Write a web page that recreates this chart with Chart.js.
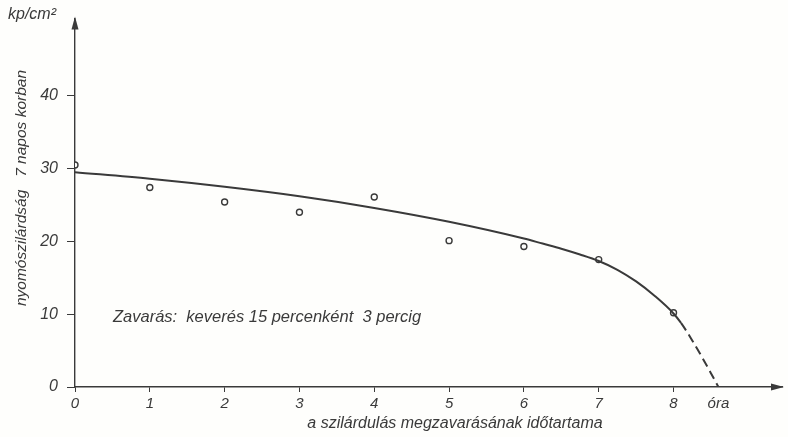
<!DOCTYPE html>
<html>
<head>
<meta charset="utf-8">
<script src="https://cdn.jsdelivr.net/npm/chart.js@4/dist/chart.umd.min.js"></script>
<style>
  html, body { margin: 0; padding: 0; background: #fefefc; }
  #wrap { width: 788px; height: 437px; }
</style>
</head>
<body>
<div id="wrap"><canvas id="chart"></canvas></div>
<script>
// measured points (7 napos nyomószilárdság)
const hours = [0, 1, 2, 3, 4, 5, 6, 7, 8];
const strength = [30.5, 27.4, 25.4, 24.0, 26.1, 20.1, 19.3, 17.5, 10.2];

// fitted curve, dashed past ~8.1 h
const curveHours = [0, 1, 2, 3, 4, 5, 6, 6.25, 6.5, 6.75, 7, 7.25, 7.5, 7.75, 8, 8.1, 8.25, 8.5, 8.6];
const curveStrength = [29.5, 28.6, 27.5, 26.2, 24.6, 22.7, 20.4, 19.7, 19.0, 18.2, 17.3, 16.1, 14.5, 12.5, 10.1, 8.8, 6.4, 1.9, 0];

const xTicks = [0, 1, 2, 3, 4, 5, 6, 7, 8, 8.6];
const xTickLabels = ["0", "1", "2", "3", "4", "5", "6", "7", "8", "óra"];
const yTicks = [0, 10, 20, 30, 40];

const ink = "#3a3a3a";
const fontFam = "'Liberation Sans', 'DejaVu Sans', sans-serif";

const extras = {
  id: "extras",
  beforeDraw(chart) {
    const c = chart.ctx;
    c.save();
    c.fillStyle = "#fefefc";
    c.fillRect(0, 0, chart.width, chart.height);
    c.restore();
  },
  afterDraw(chart) {
    const c = chart.ctx;
    const a = chart.chartArea;
    c.save();
    c.fillStyle = ink;
    c.strokeStyle = ink;
    // arrow heads
    c.beginPath();
    c.moveTo(a.left, a.top - 2);
    c.lineTo(a.left - 3.5, a.top + 11);
    c.lineTo(a.left + 3.5, a.top + 11);
    c.closePath();
    c.fill();
    c.beginPath();
    c.moveTo(a.right + 2, a.bottom);
    c.lineTo(a.right - 11, a.bottom - 3.5);
    c.lineTo(a.right - 11, a.bottom + 3.5);
    c.closePath();
    c.fill();

    c.textBaseline = "middle";
    c.textAlign = "left";
    c.font = "italic 16px " + fontFam;
    c.fillText("kp/cm²", 8, 15);

    c.font = "italic 16.5px " + fontFam;
    c.fillText("Zavarás:  keverés 15 percenként  3 percig", 113, 317);

    c.textAlign = "center";
    c.font = "italic 16px " + fontFam;
    c.fillText("a szilárdulás megzavarásának időtartama", 455, 424);

    c.translate(22, 188);
    c.rotate(-Math.PI / 2);
    c.font = "italic 15.5px " + fontFam;
    c.fillText("nyomószilárdság   7 napos korban", 0, 0);
    c.restore();
  }
};

const ctx = document.getElementById("chart");
new Chart(ctx, {
  type: "scatter",
  data: {
    datasets: [
      {
        label: "görbe",
        data: curveHours.map((h, i) => ({ x: h, y: curveStrength[i] })),
        showLine: true,
        borderColor: ink,
        borderWidth: 2,
        pointRadius: 0,
        cubicInterpolationMode: "monotone",
        segment: {
          borderDash: s => s.p0.parsed.x >= 8.05 ? [9, 5] : undefined
        }
      },
      {
        label: "mérés",
        data: hours.map((h, i) => ({ x: h, y: strength[i] })),
        showLine: false,
        pointRadius: 3,
        pointBorderWidth: 1.4,
        pointBackgroundColor: "#fefefc",
        pointBorderColor: ink
      }
    ]
  },
  options: {
    responsive: true,
    maintainAspectRatio: false,
    animation: false,
    layout: { padding: { top: 15, right: 6, left: 0, bottom: 0 } },
    plugins: {
      legend: { display: false },
      tooltip: { enabled: false }
    },
    scales: {
      x: {
        type: "linear",
        min: 0,
        max: 9.45,
        afterBuildTicks: s => { s.ticks = xTicks.map(v => ({ value: v })); },
        afterFit: s => { s.height = 50; },
        border: { display: true, color: ink, width: 1.4 },
        grid: {
          drawOnChartArea: false,
          drawTicks: true,
          tickLength: 5,
          color: c => (c.tick && c.tick.value > 8.5) ? "rgba(0,0,0,0)" : ink
        },
        ticks: {
          padding: 3,
          color: ink,
          font: { family: fontFam, size: 15, style: "italic" },
          callback: (v, i) => xTickLabels[i]
        }
      },
      y: {
        min: 0,
        max: 50.6,
        afterBuildTicks: s => { s.ticks = yTicks.map(v => ({ value: v })); },
        afterFit: s => { s.width = 75; },
        border: { display: true, color: ink, width: 1.4 },
        grid: {
          drawOnChartArea: false,
          drawTicks: true,
          tickLength: 8,
          color: ink
        },
        ticks: {
          padding: 9,
          color: ink,
          font: { family: fontFam, size: 16, style: "italic" }
        }
      }
    }
  },
  plugins: [extras]
});
</script>
</body>
</html>
